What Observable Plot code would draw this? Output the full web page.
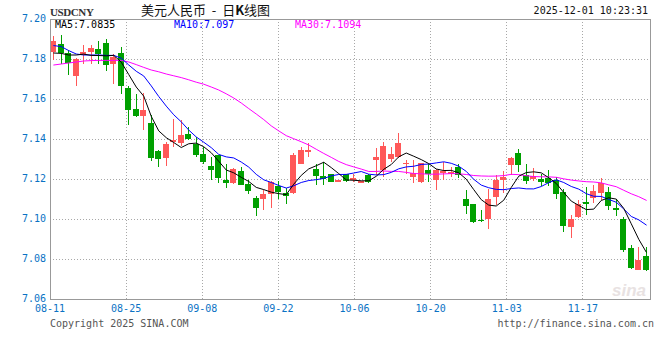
<!DOCTYPE html>
<html><head><meta charset="utf-8">
<script src="https://cdn.jsdelivr.net/npm/d3@7"></script>
<script src="https://cdn.jsdelivr.net/npm/@observablehq/plot@0.6"></script>
<style>
body{margin:0;background:#fff;}
#wrap{position:relative;width:660px;height:360px;overflow:hidden;background:#fff;}
#wrap svg{position:absolute;left:0;top:0;}
.t{position:absolute;white-space:pre;line-height:10px;}
.mono{font-family:"DejaVu Sans Mono",monospace;font-size:10px;}
</style></head><body><div id="wrap"></div>
<script>
// ---- data ----
const dates = [
 "08-11","08-12","08-13","08-14","08-15","08-18","08-19","08-20","08-21","08-22",
 "08-25","08-26","08-27","08-28","08-29","09-01","09-02","09-03","09-04","09-05",
 "09-08","09-09","09-10","09-11","09-12","09-15","09-16","09-17","09-18","09-19",
 "09-22","09-23","09-24","09-25","09-26","09-29","09-30","10-01","10-02","10-03",
 "10-06","10-07","10-08","10-09","10-10","10-13","10-14","10-15","10-16","10-17",
 "10-20","10-21","10-22","10-23","10-24","10-27","10-28","10-29","10-30","10-31",
 "11-03","11-04","11-05","11-06","11-07","11-10","11-11","11-12","11-13","11-14",
 "11-17","11-18","11-19","11-20","11-21","11-24","11-25","11-26","11-27","11-28"];
const open = [
 7.1833,7.1875,7.1830,7.1713,7.1818,7.1833,7.1847,7.1880,7.1775,7.1828,
 7.1655,7.1550,7.1513,7.1480,7.1337,7.1303,7.1383,7.1378,7.1422,7.1375,
 7.1322,7.1262,7.1317,7.1192,7.1178,7.1238,7.1175,7.1103,7.1097,7.1125,
 7.1162,7.1130,7.1128,7.1272,7.1333,7.1250,7.1212,7.1222,7.1183,7.1222,
 7.1195,7.1180,7.1220,7.1292,7.1242,7.1297,7.1308,7.1272,7.1208,7.1183,
 7.1245,7.1195,7.1228,7.1225,7.1258,7.1097,7.1072,7.0995,7.0997,7.1108,
 7.1193,7.1268,7.1330,7.1217,7.1200,7.1200,7.1205,7.1192,7.1135,7.0958,
 7.1008,7.1083,7.1105,7.1130,7.1133,7.1052,7.0997,7.0852,7.0742,7.0813];
const high = [
 7.1913,7.1917,7.1842,7.1803,7.1867,7.1867,7.1888,7.1897,7.1822,7.1858,
 7.1662,7.1622,7.1630,7.1520,7.1342,7.1385,7.1497,7.1492,7.1460,7.1408,
 7.1360,7.1308,7.1320,7.1272,7.1253,7.1258,7.1192,7.1115,7.1142,7.1187,
 7.1190,7.1153,7.1328,7.1358,7.1380,7.1275,7.1283,7.1222,7.1195,7.1222,
 7.1225,7.1190,7.1225,7.1353,7.1383,7.1358,7.1430,7.1292,7.1292,7.1278,
 7.1272,7.1250,7.1283,7.1258,7.1272,7.1142,7.1075,7.1042,7.1150,7.1217,
 7.1238,7.1310,7.1347,7.1272,7.1255,7.1225,7.1242,7.1210,7.1147,7.1017,
 7.1093,7.1158,7.1167,7.1202,7.1160,7.1097,7.1010,7.0870,7.0858,7.0858];
const low = [
 7.1792,7.1775,7.1717,7.1663,7.1775,7.1775,7.1775,7.1738,7.1675,7.1622,
 7.1470,7.1508,7.1443,7.1290,7.1258,7.1262,7.1360,7.1365,7.1392,7.1308,
 7.1272,7.1195,7.1178,7.1153,7.1175,7.1167,7.1122,7.1013,7.1045,7.1053,
 7.1100,7.1075,7.1125,7.1272,7.1308,7.1167,7.1170,7.1183,7.1183,7.1183,
 7.1185,7.1178,7.1178,7.1217,7.1208,7.1283,7.1305,7.1225,7.1180,7.1178,
 7.1183,7.1142,7.1192,7.1208,7.1205,7.1022,7.0980,7.0985,7.0947,7.1067,
 7.1130,7.1218,7.1233,7.1175,7.1188,7.1163,7.1163,7.1097,7.0933,7.0902,
 7.1005,7.1017,7.1080,7.1092,7.1043,7.1013,7.0835,7.0747,7.0742,7.0738];
const close = [
 7.1887,7.1828,7.1778,7.1797,7.1832,7.1855,7.1825,7.1770,7.1808,7.1663,
 7.1545,7.1513,7.1542,7.1303,7.1300,7.1375,7.1392,7.1417,7.1397,7.1317,
 7.1283,7.1242,7.1203,7.1180,7.1247,7.1170,7.1138,7.1055,7.1125,7.1183,
 7.1133,7.1113,7.1317,7.1345,7.1345,7.1212,7.1200,7.1183,7.1195,7.1187,
 7.1203,7.1187,7.1183,7.1308,7.1362,7.1322,7.1380,7.1277,7.1228,7.1278,
 7.1222,7.1245,7.1238,7.1233,7.1217,7.1063,7.0983,7.0987,7.1097,7.1195,
 7.1208,7.1302,7.1268,7.1188,7.1213,7.1183,7.1180,7.1125,7.0963,7.0997,
 7.1075,7.1075,7.1137,7.1180,7.1063,7.1043,7.0843,7.0752,7.0792,7.0742];
// moving-average values before a full window exists
const ma5Head = [7.1830,7.1828,7.1820,7.1820];
const ma10Head = [7.1867,7.1862,7.1842,7.1825,7.1820,7.1820,7.1820,7.1818,7.1818];
const ma30Head = [7.1770,7.1775,7.1780,7.1785,7.1790,7.1792,7.1793,7.1793,7.1793,7.1793,
 7.1785,7.1772,7.1758,7.1745,7.1736,7.1725,7.1716,7.1707,7.1696,7.1684,
 7.1674,7.1660,7.1645,7.1626,7.1605,7.1580,7.1552,7.1525,7.1497];
const yTicks = [7.06,7.08,7.10,7.12,7.14,7.16,7.18,7.20];
const maNames = ["MA5","MA10","MA30"];
const maLast = ["7.0835","7.097","7.1094"];
const symbol = "USDCNY";
const titleParts = ["美元人民币  -  日", "K", "线图"];
const stamp = "2025-12-01 10:23:31";

// ---- build ----
const RED = "#ff5858", GREEN = "#00a000", BLUE = "#0a72c4";
const n = close.length;
const idx = d3.range(n);
const ma = (w, head) => idx.map(i => i < w - 1 ? head[i] : d3.mean(close.slice(i - w + 1, i + 1)));
const ma5 = ma(5, ma5Head), ma10 = ma(10, ma10Head), ma30 = ma(30, ma30Head);
const candles = idx.map(i => ({i, o: open[i], h: high[i], l: low[i], c: close[i], up: close[i] >= open[i]}));
const maRows = idx.map(i => ({i, ma5: ma5[i], ma10: ma10[i], ma30: ma30[i]}));
const labelEvery = 10, gridStretch = 1.015;
const tickIdx = idx.filter(i => i % labelEvery === 0);
const xTickLabels = tickIdx.map(i => dates[i]);
const gridPos = tickIdx.map(i => i * gridStretch - 0.5);

const chart = Plot.plot({
  width: 660, height: 360,
  marginLeft: 49.5, marginRight: 10.5, marginTop: 18.5, marginBottom: 61.5,
  x: {type: "linear", domain: [-0.5, n - 0.5], axis: null},
  y: {domain: [7.06, 7.20], axis: null},
  style: {fontFamily: "'DejaVu Sans Mono', monospace", background: "white", overflow: "visible"},
  marks: [
    Plot.ruleY(yTicks.slice(1, -1), {stroke: "#a8a8a8", strokeDasharray: "1,2", shapeRendering: "crispEdges"}),
    Plot.ruleX(gridPos.slice(1), {x: d => d, stroke: "#a8a8a8", strokeDasharray: "1,2", shapeRendering: "crispEdges"}),
    Plot.ruleX(candles, {x: "i", y1: "l", y2: "h", stroke: d => d.up ? RED : GREEN, shapeRendering: "crispEdges"}),
    Plot.rect(candles, {x1: d => d.i - 0.4, x2: d => d.i + 0.4, y1: "o", y2: "c",
      fill: d => d.up ? RED : GREEN, shapeRendering: "crispEdges"}),
    Plot.line(maRows, {x: "i", y: "ma30", stroke: "#ff00ff", strokeWidth: 1}),
    Plot.line(maRows, {x: "i", y: "ma10", stroke: "#0000ff", strokeWidth: 1}),
    Plot.line(maRows, {x: "i", y: "ma5", stroke: "#000000", strokeWidth: 1}),
    Plot.frame({stroke: "#999", shapeRendering: "crispEdges"}),
    Plot.text(yTicks, {y: d => d, frameAnchor: "left", dx: -4, textAnchor: "end",
      text: d => d.toFixed(2), fill: BLUE, fontSize: 10}),
    Plot.text(xTickLabels, {x: (d, k) => gridPos[k], frameAnchor: "bottom", dy: 13,
      text: d => d, fill: BLUE, fontSize: 10}),
    Plot.text(["sina"], {frameAnchor: "bottom-right", dx: -4, dy: -3, textAnchor: "end",
      text: d => d, fill: "#e8e2e2", fontSize: 17, fontStyle: "italic", fontWeight: "bold",
      fontFamily: "Liberation Sans"})
  ]
});
const wrap = document.getElementById("wrap");
wrap.appendChild(chart);

function addText(txt, css, cls) {
  const d = document.createElement("div");
  d.className = "t " + (cls || "");
  d.textContent = txt;
  Object.assign(d.style, css);
  wrap.appendChild(d);
  return d;
}
addText(symbol, {left: "50px", top: "7px", fontFamily: "'Liberation Serif',serif", fontWeight: "bold",
  fontSize: "11px", letterSpacing: "-0.4px", color: "#333"});
const tdiv = addText("", {left: "141px", top: "3px", fontFamily: "'Noto Sans CJK SC',sans-serif", fontSize: "13px",
  lineHeight: "13px", color: "#111"});
titleParts.forEach((p, k) => {
  const s = document.createElement("span");
  s.textContent = p;
  if (k === 1) s.style.fontWeight = "bold";
  tdiv.appendChild(s);
});
addText(stamp, {right: "12px", top: "6px", color: "#111"}, "mono");
const maColors = ["#000000", "#0000ff", "#ff00ff"];
const maLeft = [55, 174, 295];
maNames.forEach((m, k) => addText(m + ":" + maLast[k], {left: maLeft[k] + "px", top: "20px", color: maColors[k]}, "mono"));
addText("Copyright 2025 SINA.COM", {left: "50px", top: "319px", color: "#555"}, "mono");
addText("http://finance.sina.com.cn", {right: "6px", top: "319px", color: "#555"}, "mono");
</script></body></html>
